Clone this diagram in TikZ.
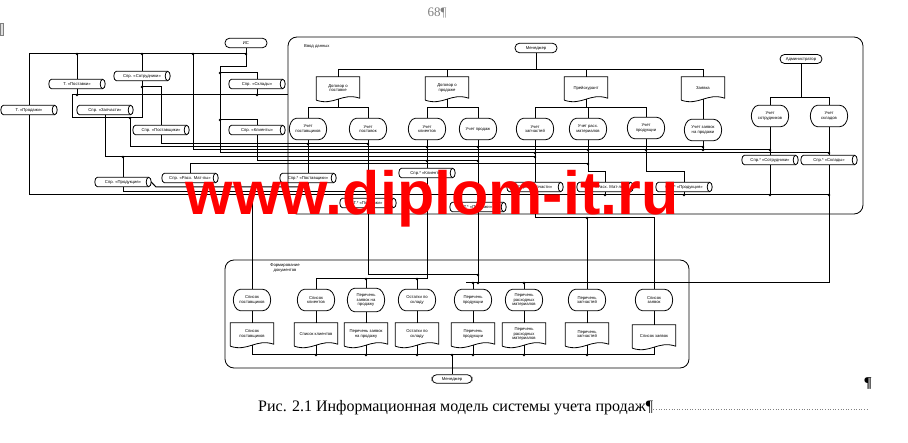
\documentclass[tikz,border=0pt]{standalone}
\usepackage{fontspec}
\setmainfont{Liberation Sans}
\newfontfamily\capfont{Liberation Serif}
\usetikzlibrary{calc}

\newcommand{\cylsh}[1]{%
 \draw[shp] ($(#1.north west)+(2.5,0)$) -- ($(#1.north east)+(-2.5,0)$)
  .. controls ($(#1.north east)+(-1.1,0)$) and ($(#1.east)+(0,-2.5)$) .. (#1.east)
  .. controls ($(#1.east)+(0,2.5)$) and ($(#1.south east)+(-1.1,0)$) .. ($(#1.south east)+(-2.5,0)$)
  -- ($(#1.south west)+(2.5,0)$)
  .. controls ($(#1.south west)+(1.1,0)$) and ($(#1.west)+(0,2.5)$) .. (#1.west)
  .. controls ($(#1.west)+(0,-2.5)$) and ($(#1.north west)+(1.1,0)$) .. cycle;
 \draw[shp] ($(#1.north east)+(-2.5,0)$)
  .. controls ($(#1.north east)+(-3.9,0)$) and ($(#1.east)+(-5,-2.5)$) .. ($(#1.east)+(-5,0)$)
  .. controls ($(#1.east)+(-5,2.5)$) and ($(#1.south east)+(-3.9,0)$) .. ($(#1.south east)+(-2.5,0)$);}
\newcommand{\dispsh}[1]{%
 \draw[shp] ($(#1.north west)+(7,0)$) -- ($(#1.north east)+(-8,0)$)
  .. controls ($(#1.north east)+(-3.6,0)$) and ($(#1.east)+(0,-5.8)$) .. (#1.east)
  .. controls ($(#1.east)+(0,5.8)$) and ($(#1.south east)+(-3.6,0)$) .. ($(#1.south east)+(-8,0)$)
  -- ($(#1.south west)+(7,0)$)
  .. controls ($(#1.south west)+(2.5,0)$) and ($(#1.west)+(0,4)$) .. (#1.west)
  .. controls ($(#1.west)+(0,-4)$) and ($(#1.north west)+(2.5,0)$) .. cycle;}
\newcommand{\docsh}[1]{%
 \draw[shp] ($(#1.south west)+(0,1)$) -- (#1.north west) -- (#1.north east) -- ($(#1.south east)+(0,-1)$)
  .. controls ($(#1.south)+(4,-7)$) and ($(#1.south)+(-4,7)$) .. ($(#1.south west)+(0,1)$);}

\begin{document}
\begin{tikzpicture}[x=1pt,y=-1pt,
 shp/.style={line width=0.8pt},
 cn/.style={line width=1pt},
 lbl/.style={font=\fontsize{4.2}{4.7}\selectfont, align=center, inner sep=0pt},
 cyl/.style={lbl, minimum width=56pt, minimum height=9pt},
 disp/.style={lbl, minimum width=37pt, minimum height=21pt},
 docn/.style={lbl, minimum width=43pt, minimum height=22pt},
 term/.style={lbl, draw, shp, rounded corners=4.5pt, minimum width=42pt, minimum height=9.5pt}]
\useasboundingbox (0,0) rectangle (908,443);
\fill[white] (0,0) rectangle (908,443);

% page marks
\node[font=\capfont\fontsize{13}{13}\selectfont, text=gray, anchor=base west] (pg) at (424,17) {68¶};
\filldraw[draw=gray, fill=gray!25] (0,23) rectangle (3,35);

% big boxes
\draw[shp, rounded corners=9pt] (288,37) rectangle (863,214);
\node[lbl, anchor=west] (lvv) at (304,46) {Ввод данных};
\draw[shp, rounded corners=9pt] (225,260) rectangle (689,368);
\node[lbl] (lfd) at (285,268) {Формирование\\документов};

% terminators
\node[term] (t1) at (246,43) {ИС};
\node[term] (t2) at (536,48) {Менеджер};
\node[term, minimum height=9pt] (t3) at (801,59) {Администратор};
\node[term, minimum width=40pt, minimum height=8.5pt] (t4) at (452,379) {Менеджер};

% cylinders
\node[cyl] (c1) at (29,110) {Т. «Продажи»};
\node[cyl] (c2) at (77,84) {Т. «Поставки»};
\node[cyl] (c3) at (142,76) {Спр. «Сотрудники»};
\node[cyl] (c4) at (105,110) {Спр. «Запчасти»};
\node[cyl] (c5) at (161,130) {Спр. «Поставщики»};
\node[cyl] (c6) at (257,84) {Спр. «Склады»};
\node[cyl] (c7) at (257,130) {Спр. «Клиенты»};
\node[cyl] (c8) at (123,182) {Спр. «Продукция»};
\node[cyl] (c9) at (190,178) {Спр. «Расх. Мат-лы»};
\node[cyl] (c10) at (308,178) {Спр.* «Поставщики»};
\node[cyl] (c11) at (427,173) {Спр.* «Клиенты»};
\node[cyl] (c12) at (368,203) {Т.* «Поставки»};
\node[cyl] (c13) at (478,207) {Т.* «Продажи»};
\node[cyl] (c14) at (535,187) {Спр.* «Запчасти»};
\node[cyl] (c15) at (605,187) {Спр.* «Расх. Мат-лы»};
\node[cyl] (c16) at (684,187) {Спр.* «Продукция»};
\node[cyl] (c17) at (770,160) {Спр.* «Сотрудники»};
\node[cyl] (c18) at (829,160) {Спр.* «Склады»};
\foreach \n in {c1,c2,c3,c4,c5,c6,c7,c8,c9,c10,c11,c12,c13,c14,c15,c16,c17,c18} {\cylsh{\n}}

% documents
\node[docn] (d1) at (338,88) {Договор о\\поставке};
\node[docn] (d2) at (447,88) {Договор о\\продаже};
\node[docn] (d3) at (586,88) {Прейскурант};
\node[docn] (d4) at (703,88) {Заявка};
\node[docn] (e1) at (252,334) {Список\\поставщиков};
\node[docn] (e2) at (316,334) {Список клиентов};
\node[docn] (e3) at (366,334) {Перечень заявок\\на продажу};
\node[docn] (e4) at (417,334) {Остатки по\\складу};
\node[docn] (e5) at (473,334) {Перечень\\продукции};
\node[docn] (e6) at (524,334) {Перечень\\расходных\\материалов};
\node[docn] (e7) at (587,334) {Перечень\\запчастей};
\node[docn] (e8) at (654,336) {Список заявок};
\foreach \n in {d1,d2,d3,d4,e1,e2,e3,e4,e5,e6,e7,e8} {\docsh{\n}}

% displays
\node[disp] (u1) at (308,129) {Учет\\поставщиков};
\node[disp] (u2) at (368,129) {Учет\\поставок};
\node[disp] (u3) at (427,129) {Учет\\клиентов};
\node[disp] (u4) at (478,129) {Учет продаж};
\node[disp] (u5) at (535,129) {Учет\\запчастей};
\node[disp] (u6) at (588,129) {Учет расх.\\материалов};
\node[disp] (u7) at (646,128) {Учет\\продукции};
\node[disp] (u8) at (703,130) {Учет заявок\\на продажи};
\node[disp] (u9) at (770,116) {Учет\\сотрудников};
\node[disp] (u10) at (829,116) {Учет\\складов};
\node[disp] (v1) at (252,300) {Список\\поставщиков};
\node[disp] (v2) at (316,300) {Список\\клиентов};
\node[disp, minimum height=23pt] (v3) at (366,300) {Перечень\\заявок на\\продажу};
\node[disp] (v4) at (417,300) {Остатки по\\складу};
\node[disp] (v5) at (473,300) {Перечень\\продукции};
\node[disp] (v6) at (524,300) {Перечень\\расходных\\материалов};
\node[disp] (v7) at (587,300) {Перечень\\запчастей};
\node[disp] (v8) at (654,300) {Список\\заявок};
\foreach \n in {u1,u2,u3,u4,u5,u6,u7,u8,u9,u10,v1,v2,v3,v4,v5,v6,v7,v8} {\dispsh{\n}}

% ---- left panel connectors
\draw[cn] (t1.south) -- (246,67) -- (220,67) -- (220,153) -- (829,153);
\draw[cn] (c1.north) -- (29,54) -- (246,54);
\draw[cn] (77,54) -- (c2.north);
\draw[cn] (142,54) -- (c3.north);
\draw[cn] (193,54) -- (193,150) -- (770,150);
\draw[cn] (220,73) -| (c6.north);
\draw[cn] (220,120) -| (c7.north);
\draw[cn] (c2.south) -- (77,95);
\draw[cn] (142,118) -- (72,118) -- (72,95) -- (288,95);
\draw[cn] (c6.south) -- (257,95);
\draw[cn] (c3.south) -- (142,118);
\draw[cn] (142,87) -| (c5.north);
\draw[cn] (130,118) -- (130,147) -- (703,147);
\draw[cn] (c5.south) -- (161,144) -- (368,144);
\draw[cn] (c4.south) -- (105,157) -- (535,157);
\draw[cn] (123,157) -- (c8.north);
\draw[cn] (c8.south) -- (123,192) -- (368,192);
\draw[cn] (c8.east) -- (156,187) -- (308,187);
\draw[cn] (c7.south) -- (257,161) -- (478,161);
\draw[cn] (c9.north) -- (190,164) -- (588,164);
\draw[cn] (c1.south) -- (29,195) -- (829,195);
\draw[cn] (c10.south) -- (308,195);

% ---- input box connectors
\draw[cn] (t2.south) -- (536,70);
\draw[cn] (d1.north) -- (338,70) -- (703,70) -- (d4.north);
\draw[cn] (d2.north) -- (447,70);
\draw[cn] (d3.north) -- (586,70);
\draw[cn] (d1.south) -- (338,108);
\draw[cn] (u1.north) -- (308,108) -- (368,108) -- (u2.north);
\draw[cn] (d2.south) -- (447,108);
\draw[cn] (u3.north) -- (427,108) -- (478,108) -- (u4.north);
\draw[cn] (d3.south) -- (586,108);
\draw[cn] (u5.north) -- (535,108) -- (646,108) -- (u7.north);
\draw[cn] (588,108) -- (u6.north);
\draw[cn] (d4.south) -- (u8.north);
\draw[cn] (t3.south) -- (801,98);
\draw[cn] (u9.north) -- (770,98) -- (829,98) -- (u10.north);
\draw[cn] (u9.south) -- (c17.north);
\draw[cn] (u10.south) -- (c18.north);
\draw[cn] (c17.south) -- (770,195);
\draw[cn] (c18.south) -- (829,283) -- (466,283);
\draw[cn] (u1.south) -- (c10.north);
\draw[cn] (u2.south) -- (c12.north);
\draw[cn] (u3.south) -- (c11.north);
\draw[cn] (u4.south) -- (c13.north);
\draw[cn] (u5.south) -- (c14.north);
\draw[cn] (u6.south) -- (588,172) -| (c15.north);
\draw[cn] (u7.south) -- (646,172) -| (c16.north);
\draw[cn] (u8.south) -- (703,150);
\draw[cn] (c15.south) -- (605,195);
\draw[cn] (c16.south) -- (684,195);

% ---- to output box
\draw[cn] (252,195) -- (v1.north);
\draw[cn] (c11.south) -- (427,279) -- (316,279) -- (v2.north);
\draw[cn] (366,279) -- (v3.north);
\draw[cn] (417,279) -- (v4.north);
\draw[cn] (c12.south) -- (368,275) -- (478,275);
\draw[cn] (c13.south) -- (478,283);
\draw[cn] (473,283) -- (v5.north);
\draw[cn] (524,283) -- (v6.north);
\draw[cn] (c14.south) -- (535,218) -- (654,218) -- (v8.north);
\draw[cn] (587,218) -- (v7.north);
\foreach \a/\b in {v1/e1,v2/e2,v3/e3,v4/e4,v5/e5,v6/e6,v7/e7,v8/e8} {\draw[cn] (\a.south) -- (\b.north);}
\foreach \b/\x in {e1/252,e2/316,e3/366,e4/417,e5/473,e6/524,e7/587,e8/654} {\draw[cn] (\b.south) -- (\x,355);}
\draw[cn] (252,355) -- (654,355);
\draw[cn] (t4.north) -- (452,355);

% junction dots
\foreach \x/\y in {246/54,77/54,142/54,193/54,220/73,220/120,77/95,257/95,130/118,142/87,
 308/144,368/144,427/147,478/147,703/147,588/150,646/150,703/150,770/150,535/153,829/153,
 123/157,535/157,427/161,478/161,588/164,368/192,308/187,
 252/195,308/195,605/195,684/195,770/195,829/195,587/218,366/279,417/279,478/275,
 473/283,524/283,478/283,316/355,366/355,417/355,473/355,524/355,587/355,452/355}
 {\fill (\x,\y) circle[radius=1.3];}

% watermark
\node[text=red, font=\fontsize{61}{61}\selectfont\bfseries, anchor=base, inner sep=0pt] (wm) at (432,215) {www.diplom-it.ru};

% caption
\node[font=\capfont\fontsize{16}{16}\selectfont, anchor=base west, inner sep=0pt] (cap) at (258,412) {Рис. 2.1  Информационная модель системы учета продаж¶};
\coordinate (ldrend) at (868,409);
\draw[gray, dotted, line width=0.6pt] (cap.east |- ldrend) -- (ldrend);
\node[font=\capfont\fontsize{15}{15}\selectfont\bfseries, anchor=base, inner sep=0pt] (pil) at (868,388) {¶};
\end{tikzpicture}
\end{document}
